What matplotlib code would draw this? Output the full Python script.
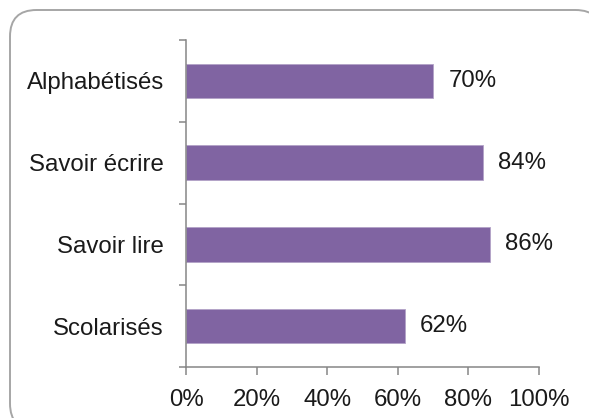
import matplotlib
matplotlib.use("Agg")
import matplotlib.pyplot as plt
from matplotlib.patches import FancyBboxPatch
from matplotlib.ticker import FixedLocator, PercentFormatter

# ========== données ==========
categories = ["Scolarisés", "Savoir lire", "Savoir écrire", "Alphabétisés"]
values = [62, 86, 84, 70]
xticks = [0, 20, 40, 60, 80, 100]

plt.rcParams["font.family"] = ["Liberation Sans", "DejaVu Sans"]

BAR_COLOR = "#8064A2"
AXIS_COLOR = "#868686"
TEXT_COLOR = "#1a1a1a"
FS = 17.3

fig = plt.figure(figsize=(5.89, 4.18), dpi=100)
W, H = 589, 418

# cadre arrondi (dépasse à droite et en bas)
box = FancyBboxPatch((10 / W, -12 / H), (602 - 10) / W, (408 + 12) / H,
                     boxstyle="round,pad=0,rounding_size=0.045",
                     transform=fig.transFigure, facecolor="white",
                     edgecolor="#a6a6a6", linewidth=1.4, mutation_aspect=W / H,
                     zorder=-1)
fig.add_artist(box)

ax = fig.add_axes([186 / W, 1 - 367 / H, (539 - 186) / W, (367 - 40) / H])
ax.set_facecolor("none")
ax.set_zorder(1)

y = list(range(len(categories)))
ax.barh(y, values, height=0.42, color=BAR_COLOR, edgecolor="#b3a2c7", linewidth=0.6)

for yi, v in zip(y, values):
    ax.annotate(f"{v}%", xy=(v, yi), xytext=(11, 0), textcoords="offset points",
                ha="left", va="center", fontsize=FS, color=TEXT_COLOR)

ax.set_xlim(0, 100)
ax.set_ylim(-0.5, len(categories) - 0.5)
ax.set_xticks(xticks)
ax.xaxis.set_major_formatter(PercentFormatter(decimals=0))
ax.set_yticks(y)
ax.set_yticklabels(categories)
# graduations aux frontières des catégories
ax.yaxis.set_minor_locator(FixedLocator([i - 0.5 for i in range(len(categories) + 1)]))

ax.tick_params(axis="y", which="major", length=0, pad=16, labelsize=FS, labelcolor=TEXT_COLOR)
ax.tick_params(axis="y", which="minor", length=5, width=1.1, color=AXIS_COLOR, direction="out")
ax.tick_params(axis="x", which="major", length=5.5, width=1.1, color=AXIS_COLOR, direction="out",
               pad=10, labelsize=FS, labelcolor=TEXT_COLOR)

for s in ["top", "right"]:
    ax.spines[s].set_visible(False)
for s in ["left", "bottom"]:
    ax.spines[s].set_color(AXIS_COLOR)
    ax.spines[s].set_linewidth(1.1)

fig.savefig("out.png", dpi=100)
